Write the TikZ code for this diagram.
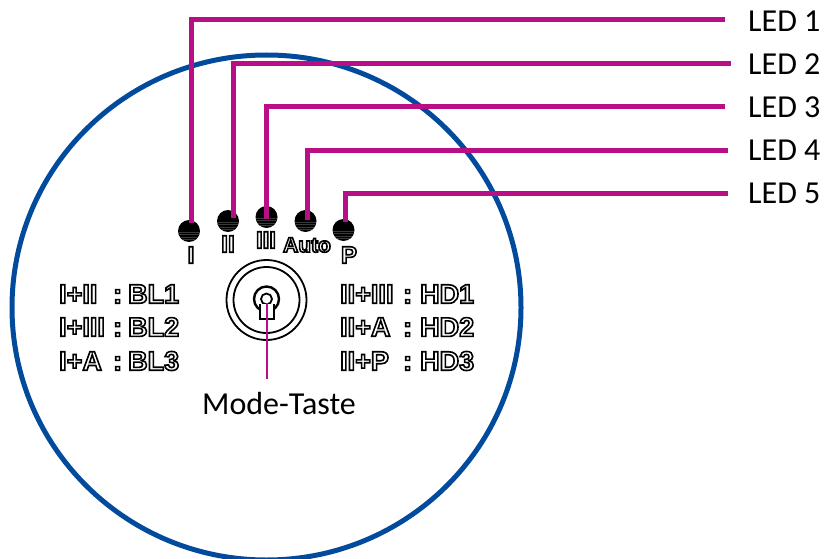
\documentclass[tikz,border=0pt]{standalone}
\usepackage{fontspec}
\setmainfont{Carlito}
\newfontfamily\panelfont{Liberation Sans}
\definecolor{ledpink}{HTML}{B80F87}
\definecolor{ringblue}{HTML}{024B9C}
\newcommand{\hollow}[1]{\special{pdf:code q 2 Tr 1.6 w 1 1 1 rg 0 0 0 RG}#1\special{pdf:code Q}}
\begin{document}
\begin{tikzpicture}[
    x=1pt, y=-1pt,
    led/.style={circle, draw=none, fill=black, minimum size=22pt, inner sep=0pt,
                path picture={
                    \foreach \dy in {1,3.5,6,8.5}
                        \draw[gray!45!black, line width=0.4pt]
                            ([yshift=-\dy pt]path picture bounding box.west) --
                            ([yshift=-\dy pt]path picture bounding box.east);
                }},
    wire/.style={ledpink, line width=5pt, line join=miter},
    ledtext/.style={anchor=west, inner sep=0pt, font=\fontsize{32}{32}\selectfont},
    keytext/.style={anchor=west, inner sep=0pt, font=\panelfont\bfseries\fontsize{27}{27}\selectfont},
    tag/.style={inner sep=0pt, font=\panelfont\bfseries\fontsize{24}{24}\selectfont}
]
    \useasboundingbox (0,0) rectangle (825,559);
    \begin{scope}
        \clip (0,0) rectangle (825,559);
        \draw[ringblue, line width=5pt] (266.5,307.5) ellipse [x radius=254.5, y radius=252.5];
    \end{scope}

    \node[led] (led1) at (189,231) {};
    \node[led] (led2) at (228,221) {};
    \node[led] (led3) at (266.5,217) {};
    \node[led] (led4) at (305.5,221) {};
    \node[led] (led5) at (343.5,230) {};

    \node[ledtext] (name1) at (748,21) {LED 1};
    \node[ledtext] (name2) at (748,64) {LED 2};
    \node[ledtext] (name3) at (748,107) {LED 3};
    \node[ledtext] (name4) at (748,150) {LED 4};
    \node[ledtext] (name5) at (748,193) {LED 5};

    \coordinate (foot1) at (191.5,223);
    \coordinate (foot2) at (233.5,218);
    \coordinate (foot3) at (266.5,219);
    \coordinate (foot4) at (307.5,220);
    \coordinate (foot5) at (345.5,222);
    \coordinate (end1) at (725,20);
    \coordinate (end2) at (731,64);
    \coordinate (end3) at (725,107);
    \coordinate (end4) at (728,150.5);
    \coordinate (end5) at (728,193.5);

    \draw[wire] (foot1) |- (end1);
    \draw[wire] (foot2) |- (end2);
    \draw[wire] (foot3) |- (end3);
    \draw[wire] (foot4) |- (end4);
    \draw[wire] (foot5) |- (end5);

    \node[tag] (tag1) at (191,255) {\hollow{I}};
    \node[tag] (tag2) at (228,244) {\hollow{II}};
    \node[tag] (tag3) at (266,240) {\hollow{III}};
    \node[tag, font=\panelfont\bfseries\fontsize{21}{21}\selectfont] (tag4) at (307,245) {\hollow{Auto}};
    \node[tag] (tag5) at (349,255) {\hollow{P}};

    \node[keytext] (bl1) at (59,294) {\hollow{I+II}};
    \node[keytext] (bl1b) at (113,294) {\hollow{:\kern-4pt{} BL1}};
    \node[keytext] (bl2) at (59,327) {\hollow{I+III}};
    \node[keytext] (bl2b) at (113,327) {\hollow{:\kern-4pt{} BL2}};
    \node[keytext] (bl3) at (59,361) {\hollow{I+A}};
    \node[keytext] (bl3b) at (113,361) {\hollow{:\kern-4pt{} BL3}};

    \node[keytext] (hd1) at (340,294) {\hollow{II+III}};
    \node[keytext] (hd1b) at (403,294) {\hollow{:\kern-2pt{} HD1}};
    \node[keytext] (hd2) at (340,327) {\hollow{II+A}};
    \node[keytext] (hd2b) at (403,327) {\hollow{:\kern-2pt{} HD2}};
    \node[keytext] (hd3) at (340,361) {\hollow{II+P}};
    \node[keytext] (hd3b) at (403,361) {\hollow{:\kern-2pt{} HD3}};

    % Mode key
    \node[circle, draw, line width=1.8pt, minimum size=80pt, inner sep=0pt] (outer) at (266.5,300) {};
    \node[circle, draw, line width=1.8pt, minimum size=66pt, inner sep=0pt] (inner) at (266.5,300) {};
    \node[circle, draw, line width=2.4pt, minimum size=25pt, inner sep=0pt] (knob) at (266.5,299) {};
    \node[circle, draw, line width=1.8pt, minimum size=11pt, inner sep=0pt] (hole) at (266.5,299) {};
    \draw[line width=1.6pt, fill=white] (260,304) -- (260,319) -- (274,319) -- (274,304);
    \node[inner sep=0pt, font=\fontsize{32}{32}\selectfont] (mode) at (279,404) {Mode-Taste};
    \coordinate (keypin) at (267,303);
    \coordinate (keyfoot) at (267,379);
    \draw[ledpink, line width=2pt] (keypin) -- (keyfoot);
\end{tikzpicture}
\end{document}
